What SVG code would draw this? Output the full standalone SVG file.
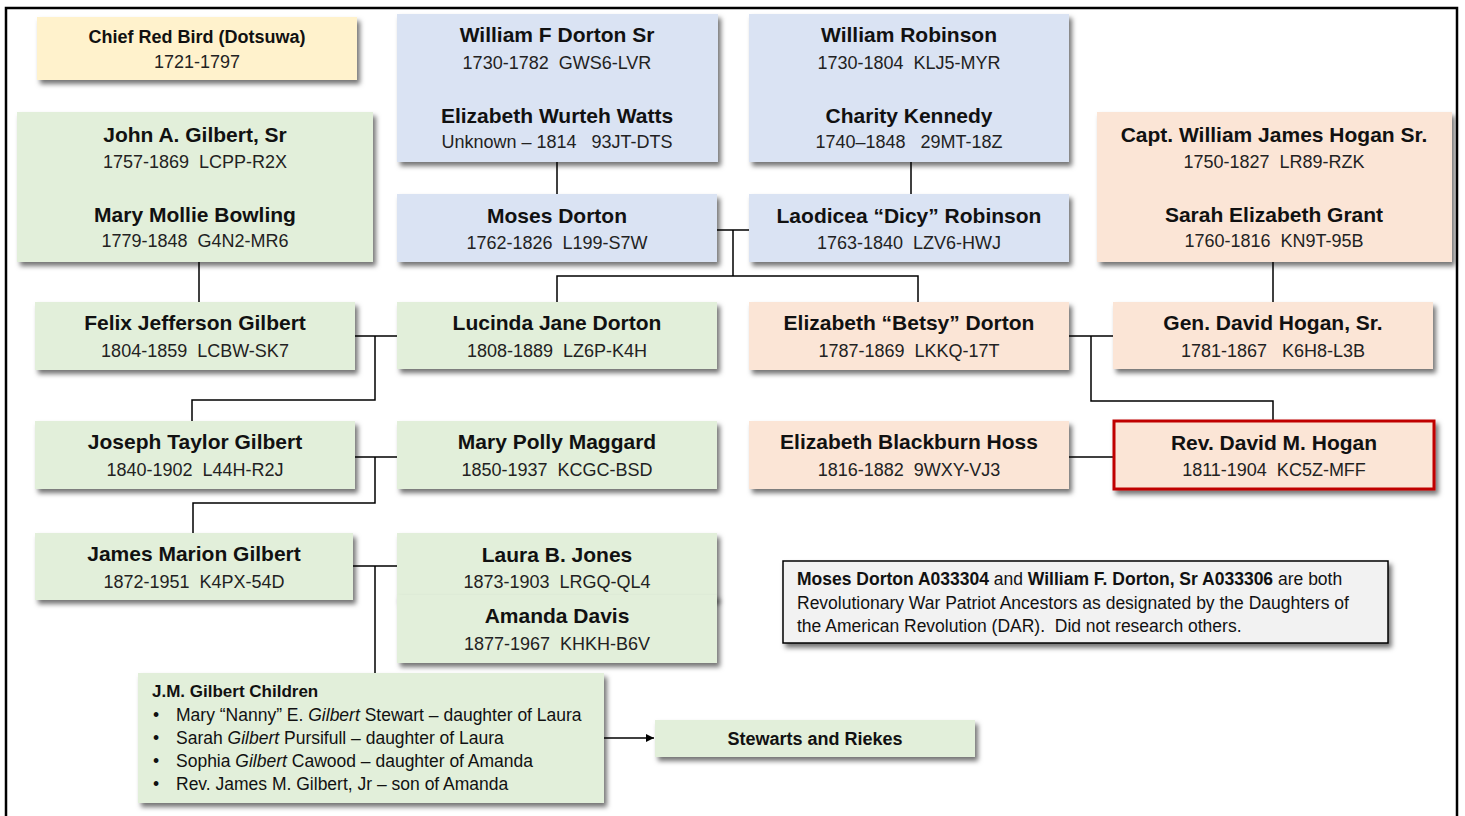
<svg xmlns="http://www.w3.org/2000/svg" width="1465" height="816" viewBox="0 0 1465 816">
<defs>
<filter id="sh" x="-10%" y="-10%" width="125%" height="140%">
<feDropShadow dx="3" dy="4" stdDeviation="2.5" flood-color="#000" flood-opacity="0.55"/>
</filter>
<marker id="arr" viewBox="0 0 10 10" refX="10" refY="5" markerWidth="8" markerHeight="8" markerUnits="userSpaceOnUse" orient="auto">
<path d="M0,0 L10,5 L0,10 z" fill="#000"/>
</marker>
</defs>
<style>
text{font-family:"Liberation Sans",Arial,sans-serif;fill:#111}
.n{font-size:21px;font-weight:bold;text-anchor:middle}
.d{font-size:18px;text-anchor:middle;fill:#222}
.g{fill:#e2efda}
.b{fill:#dae3f3}
.p{fill:#fbe5d6}
.y{fill:#fff2cc}
.box{filter:url(#sh)}
.c{fill:none;stroke:#000;stroke-width:1.5}
.s{font-size:17.5px}
.sb{font-size:17px;font-weight:bold}
</style>
<rect x="6" y="8" width="1451" height="830" fill="#fff" stroke="#000" stroke-width="2.5"/>

<g id="connectors">
<path class="c" d="M557,162 V194"/>
<path class="c" d="M911,162 V194"/>
<path class="c" d="M717,230 H749 M733,230 V276 M557,302 V276 H918 V302"/>
<path class="c" d="M199,262 V302"/>
<path class="c" d="M1273,262 V302"/>
<path class="c" d="M355,336 H397 M375,336 V400 H192 V421"/>
<path class="c" d="M1069,336 H1113 M1091,336 V401 H1273 V421"/>
<path class="c" d="M1069,457 H1114"/>
<path class="c" d="M355,457 H397 M375,457 V503 H193 V533"/>
<path class="c" d="M353,566 H397 M375,566 V673"/>
<path class="c" d="M604,738 H654" marker-end="url(#arr)"/>
</g>

<g id="chief-red-bird">
<rect class="box y" x="37" y="17" width="320" height="63"/>
<text class="n" x="197" y="43" style="font-size:18px">Chief Red Bird (Dotsuwa)</text>
<text class="d" x="197" y="68">1721-1797</text>
</g>

<g id="william-f-dorton">
<rect class="box b" x="397" y="14" width="321" height="148"/>
<text class="n" x="557" y="42">William F Dorton Sr</text>
<text class="d" x="557" y="69">1730-1782&#160; GWS6-LVR</text>
<text class="n" x="557" y="123">Elizabeth Wurteh Watts</text>
<text class="d" x="557" y="148">Unknown – 1814 &#160; 93JT-DTS</text>
</g>

<g id="william-robinson">
<rect class="box b" x="749" y="14" width="320" height="148"/>
<text class="n" x="909" y="42">William Robinson</text>
<text class="d" x="909" y="69">1730-1804&#160; KLJ5-MYR</text>
<text class="n" x="909" y="123">Charity Kennedy</text>
<text class="d" x="909" y="148">1740–1848 &#160; 29MT-18Z</text>
</g>

<g id="john-gilbert">
<rect class="box g" x="17" y="112" width="356" height="150"/>
<text class="n" x="195" y="142">John A. Gilbert, Sr</text>
<text class="d" x="195" y="168">1757-1869&#160; LCPP-R2X</text>
<text class="n" x="195" y="222">Mary Mollie Bowling</text>
<text class="d" x="195" y="247">1779-1848&#160; G4N2-MR6</text>
</g>

<g id="capt-hogan">
<rect class="box p" x="1097" y="112" width="355" height="150"/>
<text class="n" x="1274" y="142">Capt. William James Hogan Sr.</text>
<text class="d" x="1274" y="168">1750-1827&#160; LR89-RZK</text>
<text class="n" x="1274" y="222">Sarah Elizabeth Grant</text>
<text class="d" x="1274" y="247">1760-1816&#160; KN9T-95B</text>
</g>

<g id="moses-dorton">
<rect class="box b" x="397" y="194" width="320" height="68"/>
<text class="n" x="557" y="223">Moses Dorton</text>
<text class="d" x="557" y="249">1762-1826&#160; L199-S7W</text>
</g>

<g id="laodicea-robinson">
<rect class="box b" x="749" y="194" width="320" height="68"/>
<text class="n" x="909" y="223">Laodicea “Dicy” Robinson</text>
<text class="d" x="909" y="249">1763-1840&#160; LZV6-HWJ</text>
</g>

<g id="felix-gilbert">
<rect class="box g" x="35" y="302" width="320" height="68"/>
<text class="n" x="195" y="330">Felix Jefferson Gilbert</text>
<text class="d" x="195" y="357">1804-1859&#160; LCBW-SK7</text>
</g>

<g id="lucinda-dorton">
<rect class="box g" x="397" y="302" width="320" height="67"/>
<text class="n" x="557" y="330">Lucinda Jane Dorton</text>
<text class="d" x="557" y="357">1808-1889&#160; LZ6P-K4H</text>
</g>

<g id="betsy-dorton">
<rect class="box p" x="749" y="302" width="320" height="68"/>
<text class="n" x="909" y="330">Elizabeth “Betsy” Dorton</text>
<text class="d" x="909" y="357">1787-1869&#160; LKKQ-17T</text>
</g>

<g id="gen-david-hogan">
<rect class="box p" x="1113" y="302" width="320" height="67"/>
<text class="n" x="1273" y="330">Gen. David Hogan, Sr.</text>
<text class="d" x="1273" y="357">1781-1867 &#160; K6H8-L3B</text>
</g>

<g id="joseph-gilbert">
<rect class="box g" x="35" y="421" width="320" height="68"/>
<text class="n" x="195" y="449">Joseph Taylor Gilbert</text>
<text class="d" x="195" y="476">1840-1902&#160; L44H-R2J</text>
</g>

<g id="mary-polly-maggard">
<rect class="box g" x="397" y="421" width="320" height="68"/>
<text class="n" x="557" y="449">Mary Polly Maggard</text>
<text class="d" x="557" y="476">1850-1937&#160; KCGC-BSD</text>
</g>

<g id="elizabeth-hoss">
<rect class="box p" x="749" y="421" width="320" height="68"/>
<text class="n" x="909" y="449">Elizabeth Blackburn Hoss</text>
<text class="d" x="909" y="476">1816-1882&#160; 9WXY-VJ3</text>
</g>

<g id="rev-david-hogan">
<rect class="box p" x="1114" y="421" width="320" height="68" stroke="#c00000" stroke-width="3"/>
<text class="n" x="1274" y="450">Rev. David M. Hogan</text>
<text class="d" x="1274" y="476">1811-1904&#160; KC5Z-MFF</text>
</g>

<g id="james-gilbert">
<rect class="box g" x="35" y="533" width="318" height="67"/>
<text class="n" x="194" y="561">James Marion Gilbert</text>
<text class="d" x="194" y="588">1872-1951&#160; K4PX-54D</text>
</g>

<g id="laura-jones">
<rect class="box g" x="397" y="533" width="320" height="67"/>
<text class="n" x="557" y="562">Laura B. Jones</text>
<text class="d" x="557" y="588">1873-1903&#160; LRGQ-QL4</text>
</g>

<g id="amanda-davis">
<rect class="box g" x="397" y="595" width="320" height="68"/>
<text class="n" x="557" y="623">Amanda Davis</text>
<text class="d" x="557" y="650">1877-1967&#160; KHKH-B6V</text>
</g>

<g id="note">
<rect class="box" x="783" y="561" width="605" height="82" fill="#f2f2f2" stroke="#000" stroke-width="1.5"/>
<text class="s" x="797" y="585"><tspan font-weight="bold">Moses Dorton A033304</tspan> and <tspan font-weight="bold">William F. Dorton, Sr A033306</tspan> are both</text>
<text class="s" x="797" y="609">Revolutionary War Patriot Ancestors as designated by the Daughters of</text>
<text class="s" x="797" y="632">the American Revolution (DAR).&#160; Did not research others.</text>
</g>

<g id="children">
<rect class="box g" x="138" y="673" width="466" height="130"/>
<text class="sb" x="152" y="697">J.M. Gilbert Children</text>
<text class="s" x="153" y="721">•</text>
<text class="s" x="176" y="721">Mary “Nanny” E. <tspan font-style="italic">Gilbert</tspan> Stewart – daughter of Laura</text>
<text class="s" x="153" y="744">•</text>
<text class="s" x="176" y="744">Sarah <tspan font-style="italic">Gilbert</tspan> Pursifull – daughter of Laura</text>
<text class="s" x="153" y="767">•</text>
<text class="s" x="176" y="767">Sophia <tspan font-style="italic">Gilbert</tspan> Cawood – daughter of Amanda</text>
<text class="s" x="153" y="790">•</text>
<text class="s" x="176" y="790">Rev. James M. Gilbert, Jr – son of Amanda</text>
</g>

<g id="stewarts-riekes">
<rect class="box g" x="655" y="720" width="320" height="37"/>
<text class="n" x="815" y="745" style="font-size:18px">Stewarts and Riekes</text>
</g>
</svg>
